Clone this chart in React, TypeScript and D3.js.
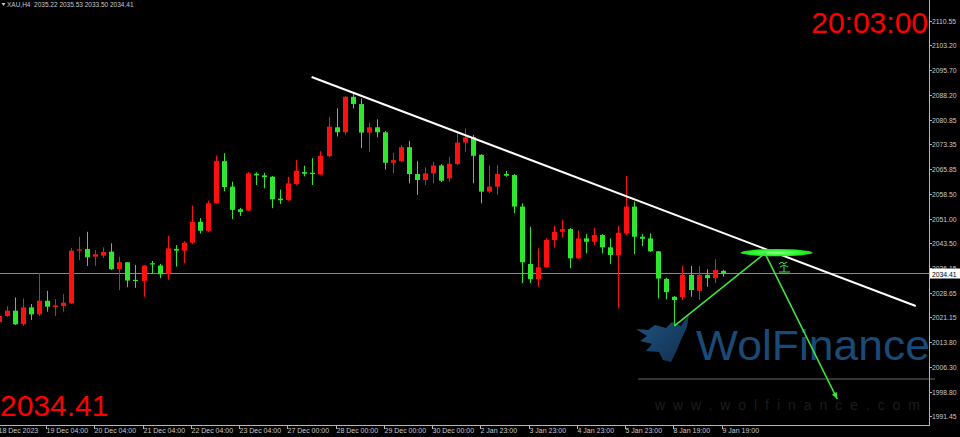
import React, { useEffect } from "react";
import * as d3 from "d3";

const W = 960;
const H = 437;

// ---- data (H4 XAU candles) ----
const opens = [
  2019.8, 2021.6, 2023.2, 2019.1, 2024.2, 2022.1, 2026.2, 2024.3, 2024.6, 2025.4,
  2041.3, 2041.8, 2039.5, 2039.8, 2041.0, 2035.7, 2037.8, 2032.5, 2032.2, 2037.5,
  2036.8, 2034.2, 2041.8, 2041.3, 2043.7, 2050.0, 2047.3, 2055.6, 2068.3, 2060.6,
  2053.8, 2053.4, 2064.5, 2064.0, 2063.6, 2057.0, 2056.6, 2061.4, 2065.0, 2064.8,
  2064.3, 2069.8, 2078.5, 2077.0, 2087.7, 2085.5, 2076.9, 2078.5, 2077.0, 2067.8,
  2068.3, 2072.5, 2064.4, 2062.6, 2064.6, 2067.0, 2063.1, 2067.4, 2073.9, 2075.5,
  2070.2, 2059.1, 2060.6, 2064.4, 2064.1, 2054.6, 2037.3, 2032.7, 2036.3, 2044.5,
  2047.0, 2047.8, 2039.0, 2045.0, 2044.0, 2046.0, 2042.3, 2040.0, 2046.5, 2054.6,
  2045.5, 2045.0, 2041.1, 2032.8, 2027.4, 2027.3, 2034.0, 2029.2, 2034.0, 2033.0,
  2035.22,
];
const highs = [
  2022.5, 2024.6, 2027.2, 2026.9, 2025.2, 2034.5, 2029.2, 2026.7, 2028.2, 2042.1,
  2045.5, 2047.0, 2041.5, 2042.3, 2043.5, 2039.5, 2037.9, 2037.0, 2037.0, 2038.2,
  2037.3, 2045.8, 2043.0, 2044.2, 2054.9, 2051.1, 2056.4, 2070.0, 2070.7, 2062.1,
  2054.2, 2065.0, 2064.9, 2064.8, 2063.8, 2059.7, 2063.6, 2068.6, 2066.9, 2069.2,
  2071.3, 2081.7, 2084.2, 2087.9, 2088.8, 2087.2, 2079.9, 2080.9, 2077.4, 2070.8,
  2073.2, 2074.4, 2068.3, 2066.4, 2068.1, 2067.4, 2069.6, 2076.7, 2078.2, 2076.2,
  2070.4, 2067.1, 2067.1, 2065.3, 2064.4, 2055.6, 2048.5, 2042.0, 2045.1, 2048.8,
  2050.6, 2048.1, 2047.3, 2046.3, 2048.1, 2046.3, 2045.0, 2048.8, 2063.8, 2056.1,
  2046.3, 2046.5, 2041.2, 2033.1, 2027.6, 2036.7, 2036.7, 2036.7, 2035.7, 2038.7,
  2035.53,
];
const lows = [
  2018.9, 2021.3, 2018.9, 2018.6, 2020.4, 2021.6, 2022.9, 2021.6, 2022.9, 2025.2,
  2038.5, 2036.7, 2036.7, 2039.1, 2035.5, 2029.4, 2030.3, 2030.1, 2027.4, 2034.5,
  2033.0, 2032.5, 2036.5, 2037.5, 2043.3, 2046.5, 2046.9, 2055.4, 2059.2, 2050.8,
  2051.8, 2053.3, 2061.1, 2060.1, 2054.1, 2055.4, 2056.3, 2061.1, 2063.7, 2061.1,
  2064.1, 2069.5, 2075.7, 2076.2, 2084.2, 2072.2, 2071.1, 2075.5, 2065.8, 2064.6,
  2068.0, 2061.6, 2058.1, 2061.1, 2061.6, 2062.0, 2062.1, 2067.1, 2071.1, 2061.6,
  2055.6, 2058.7, 2058.1, 2063.6, 2052.6, 2031.5, 2031.5, 2030.4, 2036.1, 2042.3,
  2045.3, 2036.0, 2038.8, 2040.5, 2043.0, 2040.5, 2037.3, 2023.9, 2046.0, 2040.3,
  2042.7, 2040.9, 2026.9, 2026.6, 2018.6, 2026.4, 2027.4, 2026.4, 2030.4, 2031.5,
  2033.5,
];
const closes = [
  2021.6, 2023.2, 2019.1, 2024.2, 2022.1, 2026.2, 2024.4, 2024.8, 2025.6, 2041.3,
  2041.7, 2039.3, 2040.2, 2040.9, 2035.7, 2037.8, 2032.3, 2032.2, 2036.8, 2037.2,
  2034.2, 2042.0, 2041.3, 2043.7, 2050.0, 2047.3, 2055.6, 2068.3, 2060.5, 2053.6,
  2053.0, 2064.6, 2064.0, 2063.5, 2056.8, 2056.5, 2061.6, 2065.4, 2064.5, 2064.4,
  2069.9, 2078.7, 2077.0, 2087.7, 2085.5, 2076.9, 2078.5, 2077.0, 2067.8, 2068.6,
  2072.5, 2064.4, 2062.6, 2064.6, 2067.0, 2062.4, 2067.5, 2073.9, 2075.5, 2069.9,
  2059.1, 2060.6, 2064.4, 2063.9, 2054.6, 2037.8, 2032.7, 2036.3, 2044.5, 2047.0,
  2047.8, 2039.0, 2045.0, 2044.0, 2046.0, 2042.3, 2040.0, 2046.7, 2054.6, 2045.5,
  2044.9, 2041.1, 2032.9, 2028.8, 2026.4, 2034.0, 2029.4, 2034.0, 2033.0, 2035.5,
  2034.41,
];

const priceTicks = [
  2110.55, 2103.2, 2095.7, 2088.2, 2080.85, 2073.35, 2065.85, 2058.5, 2051.0,
  2043.5, 2036.15, 2028.65, 2021.15, 2013.8, 2006.3, 1998.8, 1991.45,
];
const timeLabels = [
  "18 Dec 2023", "19 Dec 04:00", "20 Dec 04:00", "21 Dec 04:00", "22 Dec 04:00",
  "23 Dec 04:00", "27 Dec 00:00", "28 Dec 00:00", "29 Dec 00:00", "30 Dec 00:00",
  "2 Jan 23:00", "3 Jan 23:00", "4 Jan 23:00", "5 Jan 23:00", "8 Jan 19:00",
  "9 Jan 19:00",
];
const timeLabelBars = [0, 6, 12, 18, 24, 30, 36, 42, 48, 54, 60, 66, 72, 78, 84, 90];

const symbolName = "XAU,H4";
const lastQuote = [2035.22, 2035.53, 2033.5, 2034.41];
const currentPrice = 2034.41;
const clockText = "20:03:00";

// drawn objects (bar index, price)
const trendBars = [38.9, 114.0];
const trendPrices = [2093.67, 2024.62];
const arrowBars = [84.0, 95.25, 104.24];
const arrowPrices = [2018.59, 2040.51, 1996.58];
const ellipseBar = 96.7;
const ellipsePrice = 2040.69;
const levelBars = [79.5, 116.4];
const levelPrice = 2002.61;

const UP = "#ff1010";
const DOWN = "#2ee62e";
const AXIS_TXT = "#c8c8c8";
const FONT = "'Liberation Sans', Arial, sans-serif";

export default function App() {
  useEffect(() => {
    document.body.style.margin = "0";
    document.body.style.background = "#000";
  }, []);

  const x = d3.scaleLinear().domain([0, 90]).range([-1.3, 722.7]);
  const y = d3.scaleLinear().domain([1991.45, 2110.55]).range([416, 21]);

  const axisX = 929;
  const axisY = 425;

  const arrowLine = d3
    .line<number>()
    .x((_, i) => x(arrowBars[i]))
    .y((d) => y(d));

  const ex = x(ellipseBar);
  const ey = y(ellipsePrice);
  const a2 = { x1: x(arrowBars[1]), y1: y(arrowPrices[1]), x2: x(arrowBars[2]), y2: y(arrowPrices[2]) };
  const ang = Math.atan2(a2.y2 - a2.y1, a2.x2 - a2.x1);
  const ah = 7;
  const head = [
    [a2.x2, a2.y2],
    [a2.x2 - ah * Math.cos(ang - 0.4), a2.y2 - ah * Math.sin(ang - 0.4)],
    [a2.x2 - ah * Math.cos(ang + 0.4), a2.y2 - ah * Math.sin(ang + 0.4)],
  ];

  return (
    <svg width={W} height={H} style={{ display: "block", background: "#000" }}>
      <defs>
        <linearGradient id="wolfG" x1="0" y1="0" x2="1" y2="1">
          <stop offset="0" stopColor="#2a6aa5" />
          <stop offset="1" stopColor="#143a60" />
        </linearGradient>
        <radialGradient id="ellG">
          <stop offset="0" stopColor="#9bff9b" />
          <stop offset="0.5" stopColor="#3cff3c" />
          <stop offset="1" stopColor="#18e018" />
        </radialGradient>
      </defs>
      <rect x={0} y={0} width={W} height={H} fill="#000" />

      {/* watermark */}
      <path
        d="M689,314 L681,326 L672,322 L666,328 L655,325 L648,330 L636,329 L647,336 L640,341 L652,344 L646,351 L659,352 L663,360 L671,362 L676,352 L681,340 L687,327 Z"
        fill="url(#wolfG)"
        opacity={0.8}
      />
      <text x={696} y={360} fill="#1a4a77" fontFamily={FONT} fontSize={42} textLength={234} lengthAdjust="spacingAndGlyphs">
        WolFinance
      </text>
      <text x={655} y={410} fill="#1d1d1d" fontFamily={FONT} fontSize={14} textLength={265} lengthAdjust="spacing">
        www.wolfinance.com
      </text>

      {/* current price line */}
      <line x1={0} x2={axisX} y1={y(currentPrice)} y2={y(currentPrice)} stroke="#8a8a8a" strokeWidth={1} />
      {/* horizontal level */}
      <line x1={x(levelBars[0])} x2={x(levelBars[1])} y1={y(levelPrice)} y2={y(levelPrice)} stroke="#6a6a6a" strokeWidth={1} />

      {/* candles */}
      {opens.map((o, i) => {
        const c = closes[i];
        const col = c >= o ? UP : DOWN;
        const cx = Math.round(x(i)) + 0.5;
        const top = y(Math.max(o, c));
        const bot = y(Math.min(o, c));
        return (
          <g key={i}>
            <line x1={cx} x2={cx} y1={y(highs[i])} y2={y(lows[i])} stroke={col} strokeWidth={1} />
            <rect x={cx - 2.5} y={top} width={5} height={Math.max(1.2, bot - top)} fill={col} />
          </g>
        );
      })}

      {/* trendline */}
      <line
        x1={x(trendBars[0])}
        y1={y(trendPrices[0])}
        x2={x(trendBars[1])}
        y2={y(trendPrices[1])}
        stroke="#ffffff"
        strokeWidth={2}
      />

      {/* green projection */}
      <ellipse cx={ex} cy={ey} rx={36} ry={3.6} fill="url(#ellG)" />
      <path d={arrowLine(arrowPrices) || ""} fill="none" stroke="#3ee63e" strokeWidth={1.6} />
      <polygon points={head.map((p) => p.join(",")).join(" ")} fill="#3ee63e" />
      <g stroke="#3ee63e" strokeWidth={1} fill="none">
        <path d="M779,264 l3,-2 l2,2 l3,-2 M780,267 l4,-2 l4,2 M784,265 v7 M779,272 h11" />
      </g>

      {/* axes */}
      <line x1={axisX + 0.5} x2={axisX + 0.5} y1={0} y2={axisY} stroke="#b4b4b4" strokeWidth={1} />
      <line x1={0} x2={axisX + 1} y1={axisY + 0.5} y2={axisY + 0.5} stroke="#b4b4b4" strokeWidth={1} />
      {priceTicks.map((p) => (
        <g key={p}>
          <line x1={axisX} x2={axisX + 3} y1={Math.round(y(p)) + 0.5} y2={Math.round(y(p)) + 0.5} stroke="#b4b4b4" />
          <text x={932} y={y(p) + 3} fill={AXIS_TXT} fontFamily={FONT} fontSize={6.8}>
            {p.toFixed(2)}
          </text>
        </g>
      ))}
      {timeLabels.map((t, k) => {
        const tx = Math.round(x(timeLabelBars[k]) - 1) + 0.5;
        return (
          <g key={t}>
            <line x1={tx} x2={tx} y1={axisY} y2={axisY + 4} stroke="#b4b4b4" />
            <text x={tx} y={433} fill={AXIS_TXT} fontFamily={FONT} fontSize={7}>
              {t}
            </text>
          </g>
        );
      })}
      {/* current price label */}
      <rect x={930} y={y(currentPrice) - 5} width={30} height={10} fill="#ffffff" />
      <text x={932} y={y(currentPrice) + 3} fill="#000" fontFamily={FONT} fontSize={6.8}>
        {currentPrice.toFixed(2)}
      </text>

      {/* header */}
      <path d="M1.5,3 L5.5,3 L3.5,6 Z" fill={AXIS_TXT} />
      <text x={7} y={7} fill={AXIS_TXT} fontFamily={FONT} fontSize={6.5} style={{ whiteSpace: "pre" }}>
        {`${symbolName}  ${lastQuote.map((v) => v.toFixed(2)).join(" ")}`}
      </text>

      {/* clock and price */}
      <text x={928} y={33} textAnchor="end" fill="#ff0000" fontFamily={FONT} fontSize={30}>
        {clockText}
      </text>
      <text x={0} y={416} fill="#ff0000" fontFamily={FONT} fontSize={30}>
        {currentPrice.toFixed(2)}
      </text>
    </svg>
  );
}
